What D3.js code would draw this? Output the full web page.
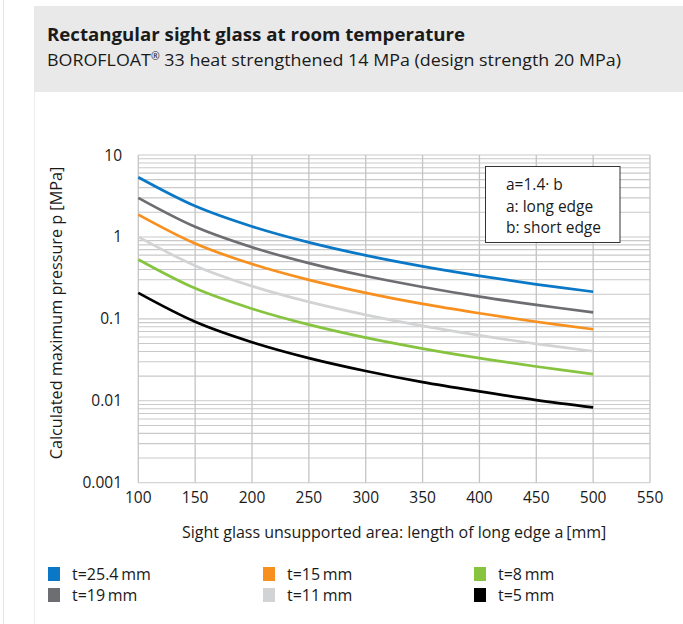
<!DOCTYPE html>
<html><head><meta charset="utf-8">
<script src="https://cdn.jsdelivr.net/npm/d3@7"></script>
<style>
html,body{margin:0;padding:0;background:#fff;}
text{font-family:"Open Sans",sans-serif;fill:#1a1a1a;}
</style></head>
<body><svg id="c" width="683" height="624"></svg>
<script>
// ---- data ----
const edgeLengths = [100,150,200,250,300,350,400,450,500];
const seriesNames = ["t=25.4\u2009mm","t=19\u2009mm","t=15\u2009mm","t=11\u2009mm","t=8\u2009mm","t=5\u2009mm"];
const seriesColors = ["#0a78c6","#6d6e71","#f7901e","#d2d3d5","#86c440","#000000"];
const p_t254 = [5.35,2.38,1.34,0.857,0.595,0.437,0.335,0.264,0.214];
const p_t19  = [3.00,1.33,0.749,0.479,0.333,0.245,0.187,0.148,0.120];
const p_t15  = [1.87,0.830,0.467,0.299,0.2075,0.152,0.117,0.0922,0.0747];
const p_t11  = [1.00,0.446,0.251,0.161,0.112,0.082,0.0628,0.0496,0.0402];
const p_t8   = [0.531,0.236,0.133,0.085,0.059,0.0434,0.0332,0.0262,0.0212];
const p_t5   = [0.2075,0.0922,0.0519,0.0332,0.0231,0.0169,0.0130,0.0102,0.0083];
const seriesValues = [p_t254,p_t19,p_t15,p_t11,p_t8,p_t5];
const xTicks = [100,150,200,250,300,350,400,450,500,550];
const yTicks = [0.001,0.01,0.1,1,10];
const yTickLabels = ["0.001","0.01","0.1","1","10"];
const annotationLines = ["a=1.4\u00b7 b","a: long edge","b: short edge"];
const titleText = "Rectangular sight glass at room temperature";
const subtitleParts = ["BOROFLOAT","\u00ae"," 33 heat strengthened 14 MPa (design strength 20 MPa)"];
const xLabel = "Sight glass unsupported area: length of long edge a\u2009[mm]";
const yLabel = "Calculated maximum pressure p [MPa]";

// ---- layout ----
const svg = d3.select("#c");
svg.append("rect").attr("width",683).attr("height",624).attr("fill","#fff");
svg.append("line").attr("x1",3.5).attr("x2",3.5).attr("y1",0).attr("y2",624).attr("stroke","#e4e4e4");
svg.append("line").attr("x1",34.5).attr("x2",34.5).attr("y1",92).attr("y2",624).attr("stroke","#ececec");
svg.append("rect").attr("x",34).attr("y",6).attr("width",649).attr("height",86).attr("fill","#e9e9e9");

svg.append("text").attr("x",47).attr("y",41).attr("font-size",17.5).attr("font-weight",700)
  .attr("textLength",418).attr("lengthAdjust","spacingAndGlyphs").text(titleText);
const sub = svg.append("text").attr("x",47).attr("y",65.5).attr("font-size",17)
  .attr("textLength",574).attr("lengthAdjust","spacingAndGlyphs");
sub.append("tspan").text(subtitleParts[0]);
sub.append("tspan").attr("font-size",10).attr("dy",-6).text(subtitleParts[1]);
sub.append("tspan").attr("dy",6).text(subtitleParts[2]);

const L=138.3, R=650, T=155, B=482.7;
const x = d3.scaleLinear().domain([100,550]).range([L,R]);
const y = d3.scaleLog().domain([0.001,10]).range([B,T]);

const grid = svg.append("g");
const hvals = [];
for (let e=-3;e<1;e++) for (let m=1;m<10;m++) hvals.push(m*Math.pow(10,e));
hvals.push(10);
grid.selectAll("line.h").data(hvals).join("line")
  .attr("x1",L).attr("x2",R).attr("y1",d=>y(d)).attr("y2",d=>y(d))
  .attr("stroke","#c9c9c9").attr("stroke-width",1.1);
grid.selectAll("line.v").data(xTicks).join("line")
  .attr("y1",T).attr("y2",B).attr("x1",d=>x(d)).attr("x2",d=>x(d))
  .attr("stroke","#c4c4c4").attr("stroke-width",1.3);

svg.append("g").selectAll("text").data(xTicks).join("text")
  .attr("x",d=>x(d)).attr("y",503).attr("text-anchor","middle").attr("font-size",15.5)
  .text(d=>d);
svg.append("g").selectAll("text").data(yTicks).join("text")
  .attr("x",122).attr("y",d=>y(d)+5.5).attr("text-anchor","end").attr("font-size",15.5)
  .text((d,i)=>yTickLabels[i]);

svg.append("text").attr("x",(L+R)/2).attr("y",538).attr("text-anchor","middle")
  .attr("font-size",16).text(xLabel);
svg.append("text").attr("transform","translate(62,313) rotate(-90)").attr("text-anchor","middle")
  .attr("font-size",16.2).text(yLabel);

const line = d3.line().x((d,i)=>x(edgeLengths[i])).y(d=>y(d)).curve(d3.curveCatmullRom.alpha(0.5));
svg.append("g").selectAll("path").data(seriesValues).join("path")
  .attr("d",d=>line(d)).attr("fill","none")
  .attr("stroke",(d,i)=>seriesColors[i]).attr("stroke-width",2.7);

const ab = svg.append("g");
ab.append("rect").attr("x",485.5).attr("y",166.5).attr("width",134.5).attr("height",76)
  .attr("fill","#fff").attr("stroke","#333").attr("stroke-width",1);
ab.selectAll("text").data(annotationLines).join("text")
  .attr("x",506).attr("y",(d,i)=>190+i*21.7).attr("font-size",15.5).text(d=>d);

const legX = [48,263,474], legY = [574,595];
const lg = svg.append("g");
seriesNames.forEach((n,i)=>{
  const col = Math.floor(i/2), row = i%2;
  lg.append("rect").attr("x",legX[col]).attr("y",legY[row]-7).attr("width",12).attr("height",14)
    .attr("fill",seriesColors[i]);
  lg.append("text").attr("x",legX[col]+24).attr("y",legY[row]+6).attr("font-size",16).text(n);
});
</script></body></html>
